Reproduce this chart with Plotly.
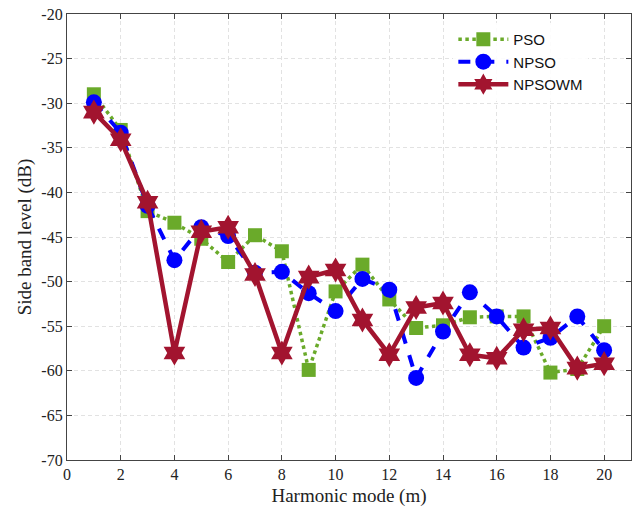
import plotly.graph_objects as go

modes = list(range(1, 21))
pso = [-29.0, -33.0, -42.1, -43.4, -45.2, -47.8, -44.8, -46.6, -59.9, -51.1,
       -48.1, -52.0, -55.2, -54.9, -54.0, -53.9, -53.9, -60.2, -59.8, -55.0]
npso = [-29.9, -33.3, -41.5, -47.6, -43.9, -44.9, -49.0, -48.9, -51.3, -53.3,
        -49.7, -50.9, -60.8, -55.6, -51.2, -53.9, -57.4, -56.3, -53.9, -57.7]
npsowm = [-31.0, -34.1, -41.1, -58.0, -44.4, -43.9, -49.2, -58.0, -49.5, -48.7,
          -54.3, -58.2, -52.9, -52.4, -58.2, -58.6, -55.4, -55.2, -59.7, -59.2]
x_ticks = list(range(0, 21, 2))
y_ticks = list(range(-70, -19, 5))
y_ticktext = [str(v) for v in y_ticks]

fig = go.Figure()
fig.add_trace(go.Scatter(x=modes, y=pso, name="PSO", mode="lines+markers",
                         line=dict(color="#6aaa2a", width=3.5, dash="dot"),
                         marker=dict(symbol="square", size=14, color="#6aaa2a")))
fig.add_trace(go.Scatter(x=modes, y=npso, name="NPSO", mode="lines+markers",
                         line=dict(color="#0000ff", width=4, dash="dash"),
                         marker=dict(symbol="circle", size=16, color="#0000ff")))
fig.add_trace(go.Scatter(x=modes, y=npsowm, name="NPSOWM", mode="lines+markers",
                         line=dict(color="#a2142f", width=4.5),
                         marker=dict(symbol="hexagram", size=19, color="#a2142f")))

axis_common = dict(showline=True, linecolor="#444", linewidth=1.2, mirror="allticks",
                   ticks="inside", ticklen=5, tickcolor="#444",
                   showgrid=True, gridcolor="#e2e2e2", griddash="4px,3px", gridwidth=1,
                   zeroline=False,
                   tickfont=dict(family="Liberation Serif", size=16, color="#222"))

fig.update_xaxes(range=[0, 21], tickvals=x_ticks,
                 title=dict(text="Harmonic mode (m)", font=dict(family="Liberation Serif", size=19, color="#222"), standoff=6),
                 **axis_common)
fig.update_yaxes(range=[-70, -20], tickvals=y_ticks, ticktext=y_ticktext,
                 title=dict(text="Side band level (dB)", font=dict(family="Liberation Serif", size=19, color="#222"), standoff=4),
                 **axis_common)

fig.update_layout(width=633, height=515, margin=dict(l=67, r=2, t=14, b=55),
                  plot_bgcolor="white", paper_bgcolor="white",
                  legend=dict(x=0.685, y=0.98, xanchor="left", yanchor="top",
                              bgcolor="rgba(255,255,255,0.9)", borderwidth=0,
                              font=dict(family="Liberation Sans", size=15, color="#111"),
                              itemwidth=50, tracegroupgap=0))

fig.write_html("out.html")
